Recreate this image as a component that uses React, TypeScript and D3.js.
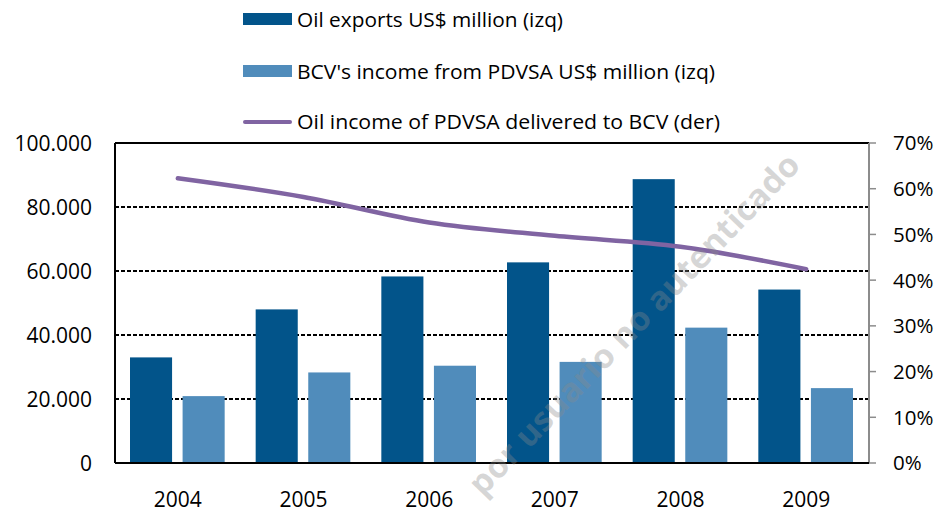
import * as d3 from "d3";

const years = ["2004", "2005", "2006", "2007", "2008", "2009"];
const oilExports = [33000, 48000, 58300, 62700, 88700, 54200];
const bcvIncome = [20900, 28300, 30400, 31600, 42300, 23400];
const sharePct = [62.3, 58.2, 52.6, 49.7, 47.3, 42.4];
const leftTicks = [0, 20000, 40000, 60000, 80000, 100000];
const rightTicks = [0, 10, 20, 30, 40, 50, 60, 70];
const seriesNames = ["Oil exports US$ million (izq)", "BCV's income from PDVSA US$ million (izq)"];
const lineName = "Oil income of PDVSA delivered to BCV (der)";
const watermark = "por usuario no autenticado";

const W = 939;
const H = 512;
const left = 115, right = 869, top = 143, bottom = 463;
const darkBlue = "#02548a";
const lightBlue = "#508cbb";
const purple = "#8064a2";
const font = "'Open Sans', sans-serif";

export default function App() {
  const x = d3.scaleBand().domain(years).range([left, right]);
  const inner = d3.scaleBand().domain(["a", "b"]).range([15, x.bandwidth() - 16]).paddingInner(0.2);
  const y = d3.scaleLinear().domain([0, 100000]).range([bottom, top]);
  const y2 = d3.scaleLinear().domain([0, 70]).range([bottom, top]);
  const fmt = (v: number) => (v === 0 ? "0" : d3.format(",")(v).replace(/,/g, "."));

  const line = d3
    .line<number>()
    .x((_, i) => x(years[i])! + x.bandwidth() / 2)
    .y((d) => y2(d))
    .curve(d3.curveMonotoneX);

  return (
    <svg width={W} height={H} style={{ position: "absolute", left: 0, top: 0 }} fontFamily={font}>
      <rect width={W} height={H} fill="#fff" />

      {/* legend */}
      <rect x={243} y={13} width={49} height={12} fill={darkBlue} />
      <text x={297} y={20} dy="0.35em" fontSize={20} fill="#000" textLength={266} lengthAdjust="spacingAndGlyphs">{seriesNames[0]}</text>
      <rect x={243} y={65} width={49} height={12} fill={lightBlue} />
      <text x={297} y={72} dy="0.35em" fontSize={20} fill="#000" textLength={418} lengthAdjust="spacingAndGlyphs">{seriesNames[1]}</text>
      <line x1={245} x2={290} y1={122} y2={122} stroke={purple} strokeWidth={4} strokeLinecap="round" />
      <text x={297} y={122} dy="0.35em" fontSize={20} fill="#000" textLength={423} lengthAdjust="spacingAndGlyphs">{lineName}</text>

      {/* gridlines */}
      {leftTicks.slice(1).map((t) => (
        <line key={t} x1={left} x2={right} y1={Math.round(y(t))} y2={Math.round(y(t))} stroke="#000" strokeWidth={1.6}
          shapeRendering="crispEdges" strokeDasharray={t === 100000 ? undefined : "4,2"} />
      ))}

      {/* bars */}
      {years.map((yr, i) => (
        <g key={yr} transform={`translate(${x(yr)},0)`}>
          <rect x={inner("a")} y={y(oilExports[i])} width={inner.bandwidth()} height={bottom - y(oilExports[i])} fill={darkBlue} />
          <rect x={inner("b")} y={y(bcvIncome[i])} width={inner.bandwidth()} height={bottom - y(bcvIncome[i])} fill={lightBlue} />
        </g>
      ))}

      {/* line */}
      <path d={line(sharePct)!} fill="none" stroke={purple} strokeWidth={4.5} strokeLinecap="round" />

      {/* axes */}
      <line x1={left} x2={left} y1={top} y2={bottom} stroke="#000" strokeWidth={2} />
      <line x1={right} x2={right} y1={top} y2={bottom} stroke="#8c8c8c" strokeWidth={2} />
      <line x1={left} x2={right} y1={bottom} y2={bottom} stroke="#000" strokeWidth={2} />
      {rightTicks.map((t) => (
        <g key={t}>
          <line x1={right} x2={right + 7} y1={y2(t)} y2={y2(t)} stroke="#8c8c8c" strokeWidth={1.5} />
          <text x={893} y={y2(t)} dy="0.36em" fontSize={20.5} fill="#000">{t + "%"}</text>
        </g>
      ))}
      {leftTicks.map((t) => (
        <text key={t} x={92} y={y(t)} dy="0.36em" fontSize={21} textAnchor="end" fill="#000">{fmt(t)}</text>
      ))}
      {years.map((yr) => (
        <text key={yr} x={x(yr)! + x.bandwidth() / 2} y={499} dy="0.36em" fontSize={21} textAnchor="middle" fill="#000">{yr}</text>
      ))}

      {/* watermark */}
      <text x={634} y={324} dy="0.35em" transform="rotate(-46 634 324)" textAnchor="middle" fontSize={33} fontWeight="bold"
        fill="#8a8a8a" fillOpacity={0.35} textLength={460} lengthAdjust="spacingAndGlyphs">{watermark}</text>
    </svg>
  );
}
